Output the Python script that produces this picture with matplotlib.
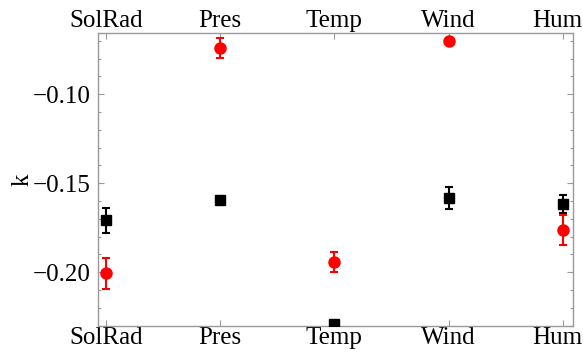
import matplotlib
matplotlib.use('Agg')
import matplotlib.pyplot as plt
import matplotlib.transforms as mtransforms
from matplotlib.ticker import MultipleLocator

categories = ['SolRad', 'Pres', 'Temp', 'Wind', 'Hum']
black_k = [-0.1708, -0.1596, -0.2292, -0.1584, -0.1618]
black_err = [0.0070, 0.0020, 0.0010, 0.0062, 0.0050]
red_k = [-0.2006, -0.0742, -0.1944, -0.0702, -0.1764]
red_err = [0.0087, 0.0056, 0.0056, 0.0010, 0.0084]

plt.rcParams['font.family'] = ['Liberation Serif', 'DejaVu Serif']
plt.rcParams['axes.unicode_minus'] = True

fig = plt.figure(figsize=(5.83, 3.56), dpi=100)
ax = fig.add_axes([0.168, 0.084, 0.815, 0.823])

x = list(range(1, len(categories) + 1))
ax.errorbar(x, black_k, yerr=black_err, fmt='s', color='black', ms=7,
            elinewidth=1.5, capsize=3, capthick=1.5, zorder=3)
ax.errorbar(x, red_k, yerr=red_err, fmt='o', color='red', ms=8,
            elinewidth=1.5, capsize=3, capthick=1.5, zorder=3)

ax.set_xlim(0.93, 5.09)
ax.set_ylim(-0.2303, -0.0657)
ax.set_xticks(x)
ax.set_xticklabels(categories)
ax.yaxis.set_major_locator(MultipleLocator(0.05))
ax.yaxis.set_minor_locator(MultipleLocator(0.01))
ax.yaxis.set_major_formatter(plt.FuncFormatter(lambda v, p: f'{v:.2f}'.replace('-', '\u2212')))

ax.tick_params(axis='both', which='both', direction='in', color='#999999',
               top=True, right=True, labeltop=True, labelsize=18)
ax.tick_params(axis='both', which='major', length=4, width=0.8)
ax.tick_params(axis='y', which='minor', length=2.5, width=0.8)
ax.tick_params(axis='x', which='major', pad=1)
ax.tick_params(axis='y', which='major', pad=5)
for s in ax.spines.values():
    s.set_color('#999999')
    s.set_linewidth(1)

# last label sits against the right edge, nudge it in a bit
shift = mtransforms.ScaledTranslation(-6 / 100, 0, fig.dpi_scale_trans)
xt = ax.xaxis.get_major_ticks()[-1]
for lab in (xt.label1, xt.label2):
    lab.set_transform(lab.get_transform() + shift)

ax.set_ylabel('k', fontsize=18, labelpad=0)

fig.savefig('out.png', dpi=100)
